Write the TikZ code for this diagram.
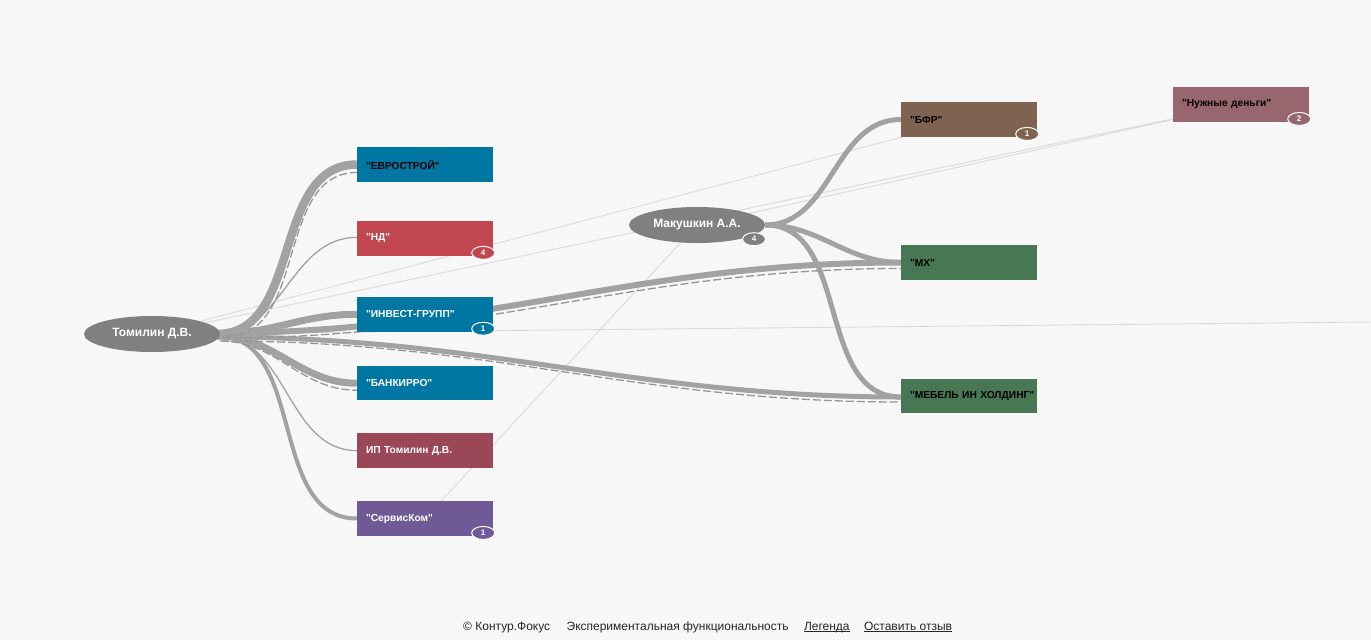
\documentclass[tikz,border=0pt]{standalone}
\usepackage{fontspec}
\newfontfamily\arial{Liberation Sans}
\usetikzlibrary{shapes.geometric,positioning,backgrounds}
\definecolor{paper}{HTML}{F7F7F7}
\definecolor{pgray}{HTML}{808080}
\definecolor{lgray}{HTML}{A2A2A2}
\definecolor{dgray}{HTML}{969696}
\definecolor{hair}{HTML}{D9D9D9}
\definecolor{cblue}{HTML}{0076A2}
\definecolor{cred}{HTML}{C1464F}
\definecolor{cwine}{HTML}{9A4757}
\definecolor{cviolet}{HTML}{6F5A97}
\definecolor{cbrown}{HTML}{7F6350}
\definecolor{cgreen}{HTML}{477853}
\definecolor{cmauve}{HTML}{98666F}
\newcommand{\lnk}[1]{\setbox0\hbox{#1}\rlap{\rule[-2pt]{\wd0}{0.7pt}}\box0}
\tikzstyle{every picture}+=[x=1pt,y=-1pt]
\tikzstyle{every picture}+=[line cap=butt]
\tikzstyle{person}=[ellipse, fill=pgray, inner sep=0pt]
\tikzstyle{person}+=[minimum width=136pt, minimum height=36pt]
\tikzstyle{person}+=[text=white, font=\arial\bfseries\fontsize{12}{14}\selectfont]
\tikzstyle{firm}=[rectangle, inner xsep=9pt, inner ysep=0pt]
\tikzstyle{firm}+=[minimum width=136pt, minimum height=34.5pt, text width=118pt, align=left]
\tikzstyle{firm}+=[font=\arial\bfseries\fontsize{10.2}{12}\selectfont]
\tikzstyle{badge}=[ellipse, draw=white, line width=1pt, inner sep=0pt]
\tikzstyle{badge}+=[minimum width=23pt, minimum height=13pt]
\tikzstyle{badge}+=[text=white, font=\arial\bfseries\fontsize{8}{9}\selectfont]
\tikzstyle{tie}=[draw=lgray, out=0, in=180]
\tikzstyle{trail}=[draw=dgray, line width=1.3pt, dash pattern=on 8pt off 3pt, out=0, in=180]
\tikzstyle{faint}=[draw=hair, line width=0.9pt]
\tikzstyle{foot}=[inner sep=0pt, text=black!85, font=\arial\fontsize{12}{14}\selectfont]

\begin{document}
\begin{tikzpicture}
\useasboundingbox (0,0) rectangle (1371,640);

\node[person] (tom) at (152,334) {Томилин Д.В.};
\node[person] (mak) at (697,225) {Макушкин А.А.};
\node[badge, fill=pgray] (mak_n) at ([xshift=57pt,yshift=4pt]mak.south) {4};

\node[firm, fill=cblue] (evro) at (425,164.5) {"ЕВРОСТРОЙ"};
\node[firm, fill=cred, text=white] (nd) [below=39pt of evro] {"НД"};
\node[firm, fill=cblue, text=white] (invest) [below=41pt of nd] {"ИНВЕСТ-ГРУПП"};
\node[firm, fill=cblue, text=white] (bank) [below=34pt of invest] {"БАНКИРРО"};
\node[firm, fill=cwine, text=white] (ip) [below=32.5pt of bank] {ИП Томилин Д.В.};
\node[firm, fill=cviolet, text=white] (servis) [below=33pt of ip] {"СервисКом"};

\node[firm, fill=cbrown] (bfr) at (969,119.5) {"БФР"};
\node[firm, fill=cgreen] (mx) at (969,262.5) {"МХ"};
\node[firm, fill=cgreen] (mebel) at (969,396) {\mbox{"МЕБЕЛЬ ИН ХОЛДИНГ"}};
\node[firm, fill=cmauve] (nuzh) at (1241,104.5) {"Нужные деньги"};
\coordinate (far) at (1371,322);

\node[badge, fill=cred] (nd_n) at ([xshift=-10pt,yshift=3pt]nd.south east) {4};
\node[badge, fill=cblue] (invest_n) at ([xshift=-10pt,yshift=3pt]invest.south east) {1};
\node[badge, fill=cviolet] (servis_n) at ([xshift=-10pt,yshift=3pt]servis.south east) {1};
\node[badge, fill=cbrown] (bfr_n) at ([xshift=-10pt,yshift=3pt]bfr.south east) {1};
\node[badge, fill=cmauve] (nuzh_n) at ([xshift=-10pt,yshift=3pt]nuzh.south east) {2};

\node[foot, anchor=base west] (copy) at (463,630) {© Контур.Фокус};
\node[foot, right=16pt of copy.base east, anchor=base west] (exper) {Экспериментальная функциональность};
\node[foot, right=15pt of exper.base east, anchor=base west] (legend) {\lnk{Легенда}};
\node[foot, right=14pt of legend.base east, anchor=base west] (review) {\lnk{Оставить отзыв}};

\begin{pgfonlayer}{background}
\fill[paper] (0,0) rectangle (1371,640);
\path[faint]
   (tom) edge (bfr)
   (tom) edge (nuzh)
   (mak) edge (nuzh)
   (tom) edge (far)
   (servis) edge (mak)
;
\path[tie]
   ([xshift=-3pt]tom.east) edge[line width=8.5pt] (evro.west)
   ([xshift=-3pt]tom.east) edge[line width=1.3pt] ([yshift=1pt]nd.west)
   ([xshift=-3pt]tom.east) edge[line width=7pt] (invest.west)
   ([xshift=-3pt,yshift=1pt]tom.east) edge[line width=6pt] (mx.west)
   ([xshift=-3pt,yshift=-3pt]tom.east) edge[line width=5pt] ([yshift=-1pt]mebel.west)
   ([xshift=-3pt,yshift=-2pt]tom.east) edge[line width=7pt] (bank.west)
   ([xshift=-3pt,yshift=-2pt]tom.east) edge[line width=1.3pt] (ip.west)
   ([xshift=-3pt,yshift=-2pt]tom.east) edge[line width=4pt] (servis.west)
   (mak.east) edge[line width=5pt] (bfr.west)
   (mak.east) edge[line width=5pt] (mx.west)
   (mak.east) edge[line width=5pt] ([yshift=-1pt]mebel.west)
;
\path[trail]
   ([xshift=6pt,yshift=-2pt]tom.east) edge ([yshift=-8pt]evro.west)
   ([xshift=2pt,yshift=-4pt]tom.east) edge ([yshift=-6pt]mx.west)
   ([xshift=2pt,yshift=-7pt]tom.east) edge ([yshift=-6pt]mebel.west)
   ([xshift=0pt,yshift=-7pt]tom.east) edge ([yshift=-7pt]bank.west)
;
\end{pgfonlayer}
\end{tikzpicture}
\end{document}
